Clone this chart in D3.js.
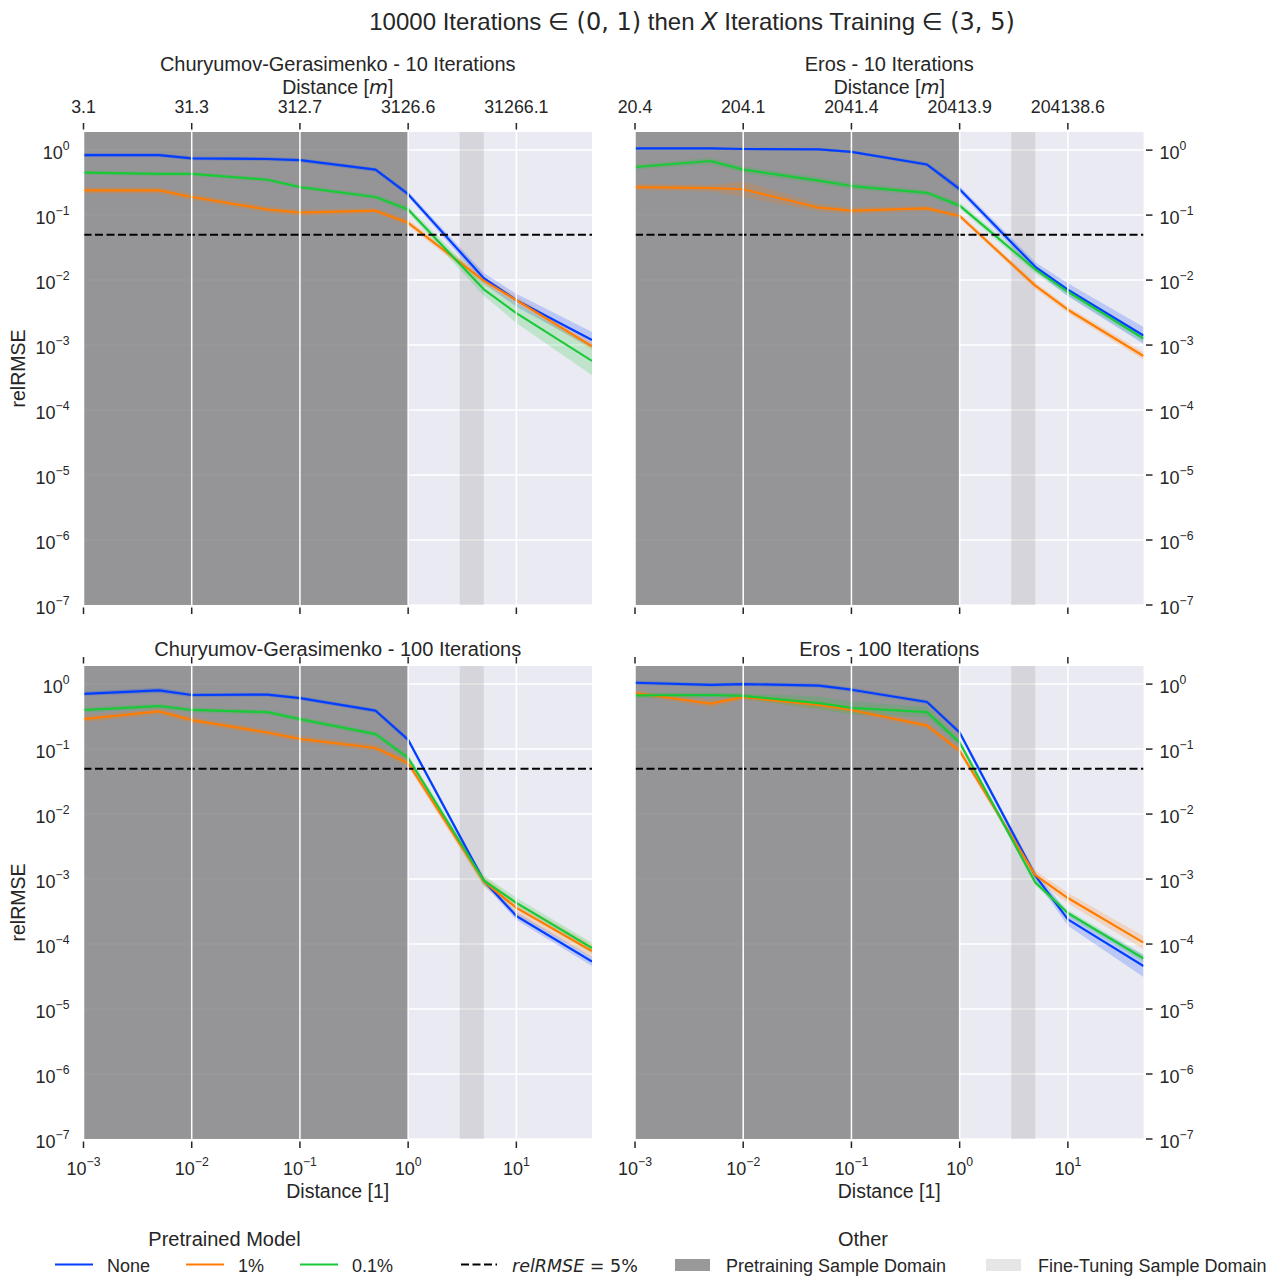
<!DOCTYPE html>
<html lang="en">
<head>
<meta charset="UTF-8">
<title>relRMSE fine-tuning</title>
<style>
    body { margin: 0; background: #fff; }
    svg { display: block; font-family: "Liberation Sans", Arial, sans-serif; }
    text { fill: #262626; }
</style>
</head>
<body>
<script src="https://d3js.org/d3.v7.min.js"></script>
<script>
// sample distances (dimensionless)
var xs = [0.001, 0.005, 0.01, 0.05, 0.1, 0.5, 1, 5, 10, 50];

// Churyumov-Gerasimenko, 10 iterations
var cg10None  = [0.84, 0.84, 0.745, 0.73, 0.70, 0.50, 0.21, 0.0107, 0.0049, 0.0012];
var cg10One   = [0.24, 0.24, 0.19, 0.122, 0.109, 0.117, 0.076, 0.0098, 0.0049, 0.00096];
var cg10Tenth = [0.45, 0.43, 0.43, 0.35, 0.27, 0.19, 0.122, 0.0072, 0.0031, 0.00057];
// Eros, 10 iterations
var er10None  = [1.06, 1.06, 1.04, 1.03, 0.94, 0.60, 0.25, 0.016, 0.0071, 0.0014];
var er10One   = [0.27, 0.26, 0.25, 0.13, 0.117, 0.127, 0.097, 0.0082, 0.0035, 0.00068];
var er10Tenth = [0.55, 0.68, 0.50, 0.34, 0.28, 0.22, 0.14, 0.0146, 0.0066, 0.00126];
// Churyumov-Gerasimenko, 100 iterations
var cg100None  = [0.71, 0.80, 0.68, 0.69, 0.61, 0.39, 0.139, 0.00094, 0.00027, 0.000054];
var cg100One   = [0.29, 0.38, 0.28, 0.18, 0.144, 0.104, 0.061, 0.00092, 0.00036, 0.000078];
var cg100Tenth = [0.40, 0.46, 0.40, 0.37, 0.29, 0.17, 0.073, 0.00095, 0.00043, 0.000087];
// Eros, 100 iterations
var er100None  = [1.05, 0.975, 1.0, 0.95, 0.82, 0.53, 0.18, 0.00113, 0.00024, 0.000046];
var er100One   = [0.73, 0.50, 0.63, 0.48, 0.40, 0.23, 0.094, 0.00115, 0.00051, 0.000105];
var er100Tenth = [0.67, 0.68, 0.66, 0.51, 0.43, 0.37, 0.126, 0.00089, 0.0003, 0.00006];

// half width of the shaded band, in decades
var cg10NoneSd   = [0.03, 0.03, 0.03, 0.03, 0.03, 0.03, 0.04, 0.08, 0.10, 0.12];
var cg10OneSd    = [0.05, 0.05, 0.05, 0.05, 0.05, 0.04, 0.05, 0.06, 0.06, 0.06];
var cg10TenthSd  = [0.03, 0.03, 0.03, 0.03, 0.03, 0.04, 0.05, 0.10, 0.15, 0.22];
var er10NoneSd   = [0.02, 0.02, 0.02, 0.02, 0.02, 0.03, 0.05, 0.07, 0.10, 0.13];
var er10OneSd    = [0.05, 0.05, 0.12, 0.06, 0.05, 0.04, 0.04, 0.05, 0.05, 0.06];
var er10TenthSd  = [0.04, 0.05, 0.05, 0.05, 0.05, 0.04, 0.05, 0.06, 0.06, 0.06];
var cg100NoneSd  = [0.03, 0.04, 0.03, 0.03, 0.03, 0.03, 0.04, 0.05, 0.06, 0.07];
var cg100OneSd   = [0.05, 0.05, 0.05, 0.05, 0.05, 0.05, 0.06, 0.08, 0.10, 0.10];
var cg100TenthSd = [0.04, 0.04, 0.04, 0.04, 0.04, 0.04, 0.05, 0.08, 0.08, 0.08];
var er100NoneSd  = [0.03, 0.03, 0.03, 0.03, 0.03, 0.03, 0.04, 0.06, 0.10, 0.17];
var er100OneSd   = [0.04, 0.06, 0.04, 0.06, 0.05, 0.05, 0.05, 0.07, 0.08, 0.10];
var er100TenthSd = [0.04, 0.04, 0.04, 0.10, 0.10, 0.08, 0.05, 0.05, 0.05, 0.06];

var xTicks = [1e-3, 1e-2, 1e-1, 1, 10];
var yTicks = [1, 1e-1, 1e-2, 1e-3, 1e-4, 1e-5, 1e-6, 1e-7];
var cgMeters = ["3.1", "31.3", "312.7", "3126.6", "31266.1"];
var erosMeters = ["20.4", "204.1", "2041.4", "20413.9", "204138.6"];
var pretrainDomain = [0.001, 1];
var finetuneDomain = [3, 5];
var threshold = 0.05;

var modelNames = ["None", "1%", "0.1%"];
var modelColors = ["#023eff", "#ff7c00", "#1ac938"];

var panels = [
    {title: "Churyumov-Gerasimenko - 10 Iterations", left: 83.5, top: 132, meters: cgMeters, row: 0, col: 0,
     series: [cg10None, cg10One, cg10Tenth], spread: [cg10NoneSd, cg10OneSd, cg10TenthSd]},
    {title: "Eros - 10 Iterations", left: 635, top: 132, meters: erosMeters, row: 0, col: 1,
     series: [er10None, er10One, er10Tenth], spread: [er10NoneSd, er10OneSd, er10TenthSd]},
    {title: "Churyumov-Gerasimenko - 100 Iterations", left: 83.5, top: 666, meters: null, row: 1, col: 0,
     series: [cg100None, cg100One, cg100Tenth], spread: [cg100NoneSd, cg100OneSd, cg100TenthSd]},
    {title: "Eros - 100 Iterations", left: 635, top: 666, meters: null, row: 1, col: 1,
     series: [er100None, er100One, er100Tenth], spread: [er100NoneSd, er100OneSd, er100TenthSd]}
];

var W = 1280, H = 1277;
var pw = 508.5, ph = 473;
var tickSize = 18, labelSize = 19.5, titleSize = 20;

var svg = d3.select("body").append("svg")
    .attr("width", W)
    .attr("height", H);

svg.append("rect").attr("width", W).attr("height", H).attr("fill", "#fff");

var x = d3.scaleLog().domain([0.001, 50]).range([0, pw]);
var y = d3.scaleLog().domain([1e-7, 1.9]).range([ph, 0]);

// "10" with a superscript exponent, like matplotlib's log labels
function powLabel(sel, v, size) {
    var e = Math.round(Math.log10(v));
    sel.append("tspan").text("10");
    sel.append("tspan")
        .attr("dy", -size * 0.5)
        .style("font-size", (size * 0.68) + "px")
        .text(e < 0 ? "\u2212" + (-e) : String(e));
}

// suptitle
var sup = svg.append("text")
    .attr("x", 692).attr("y", 29.5)
    .attr("text-anchor", "middle")
    .style("font-size", "24px");
sup.append("tspan").text("10000 Iterations ");
sup.append("tspan").style("font-family", "DejaVu Sans").text("\u2208 (0, 1)");
sup.append("tspan").text(" then ");
sup.append("tspan").style("font-family", "DejaVu Sans").style("font-style", "italic").text("X");
sup.append("tspan").text(" Iterations Training ");
sup.append("tspan").style("font-family", "DejaVu Sans").text("\u2208 (3, 5)");

panels.forEach(function (p) {
    var g = svg.append("g").attr("transform", "translate(" + p.left + "," + p.top + ")");
    var clipId = "clip" + p.row + p.col;
    g.append("clipPath").attr("id", clipId)
        .append("rect").attr("width", pw).attr("height", ph);

    g.append("rect").attr("width", pw).attr("height", ph).attr("fill", "#eaeaf2");

    // horizontal grid
    g.selectAll(".hgrid").data(yTicks).enter().append("line")
        .attr("x1", 0).attr("x2", pw)
        .attr("y1", function (d) { return y(d); })
        .attr("y2", function (d) { return y(d); })
        .attr("stroke", "#fff").attr("stroke-width", 1.5);

    // sample domains
    g.append("rect")
        .attr("x", x(pretrainDomain[0])).attr("y", 0)
        .attr("width", x(pretrainDomain[1]) - x(pretrainDomain[0])).attr("height", ph)
        .attr("fill", "#808080").attr("fill-opacity", 0.8);
    g.append("rect")
        .attr("x", x(finetuneDomain[0])).attr("y", 0)
        .attr("width", x(finetuneDomain[1]) - x(finetuneDomain[0])).attr("height", ph)
        .attr("fill", "#808080").attr("fill-opacity", 0.2);

    var plot = g.append("g").attr("clip-path", "url(#" + clipId + ")");

    p.series.forEach(function (vals, i) {
        var pts = xs.map(function (xv, j) { return {x: xv, v: vals[j], s: p.spread[i][j]}; });
        var area = d3.area()
            .x(function (d) { return x(d.x); })
            .y0(function (d) { return y(d.v / Math.pow(10, d.s)); })
            .y1(function (d) { return y(d.v * Math.pow(10, d.s)); });
        plot.append("path").datum(pts)
            .attr("d", area)
            .attr("fill", modelColors[i]).attr("fill-opacity", 0.2);
    });
    p.series.forEach(function (vals, i) {
        var line = d3.line()
            .x(function (d, j) { return x(xs[j]); })
            .y(function (d) { return y(d); });
        plot.append("path").datum(vals)
            .attr("d", line)
            .attr("fill", "none")
            .attr("stroke", modelColors[i]).attr("stroke-width", 2.2)
            .attr("stroke-linejoin", "round");
    });

    // 5% threshold
    plot.append("line")
        .attr("x1", 0).attr("x2", pw)
        .attr("y1", y(threshold)).attr("y2", y(threshold))
        .attr("stroke", "#000").attr("stroke-width", 2)
        .attr("stroke-dasharray", "8,3.5");

    // vertical grid of the twin axis sits on top
    g.selectAll(".vgrid").data(xTicks).enter().append("line")
        .attr("x1", function (d) { return x(d); })
        .attr("x2", function (d) { return x(d); })
        .attr("y1", 0).attr("y2", ph)
        .attr("stroke", "#fff").attr("stroke-width", 1.5);

    // tick marks top and bottom
    xTicks.forEach(function (t) {
        g.append("line").attr("x1", x(t)).attr("x2", x(t))
            .attr("y1", -9).attr("y2", -2.5)
            .attr("stroke", "#262626").attr("stroke-width", 1.5);
        g.append("line").attr("x1", x(t)).attr("x2", x(t))
            .attr("y1", ph + 2.5).attr("y2", ph + 9)
            .attr("stroke", "#262626").attr("stroke-width", 1.5);
    });

    if (p.meters) {
        p.meters.forEach(function (m, k) {
            g.append("text")
                .attr("x", x(xTicks[k])).attr("y", -19)
                .attr("text-anchor", "middle")
                .style("font-size", "17.8px")
                .text(m);
        });
        var dl = g.append("text")
            .attr("x", pw / 2).attr("y", -38)
            .attr("text-anchor", "middle")
            .style("font-size", labelSize + "px");
        dl.append("tspan").text("Distance [");
        dl.append("tspan").style("font-family", "DejaVu Sans").style("font-style", "italic").text("m");
        dl.append("tspan").text("]");
        g.append("text")
            .attr("x", pw / 2).attr("y", -61)
            .attr("text-anchor", "middle")
            .style("font-size", titleSize + "px")
            .text(p.title);
    } else {
        g.append("text")
            .attr("x", pw / 2).attr("y", -10)
            .attr("text-anchor", "middle")
            .style("font-size", titleSize + "px")
            .text(p.title);
        xTicks.forEach(function (t) {
            var tx = g.append("text")
                .attr("x", x(t)).attr("y", ph + 36)
                .attr("text-anchor", "middle")
                .style("font-size", tickSize + "px");
            powLabel(tx, t, tickSize);
        });
        g.append("text")
            .attr("x", pw / 2).attr("y", ph + 59)
            .attr("text-anchor", "middle")
            .style("font-size", labelSize + "px")
            .text("Distance [1]");
    }

    // y ticks
    yTicks.forEach(function (t) {
        var ty;
        if (p.col === 0) {
            ty = g.append("text")
                .attr("x", -14).attr("y", y(t) + 9)
                .attr("text-anchor", "end")
                .style("font-size", tickSize + "px");
        } else {
            g.append("line").attr("x1", pw + 2.5).attr("x2", pw + 9)
                .attr("y1", y(t)).attr("y2", y(t))
                .attr("stroke", "#262626").attr("stroke-width", 1.5);
            ty = g.append("text")
                .attr("x", pw + 16).attr("y", y(t) + 9)
                .attr("text-anchor", "start")
                .style("font-size", tickSize + "px");
        }
        powLabel(ty, t, tickSize);
    });

    if (p.col === 0) {
        g.append("text")
            .attr("transform", "translate(-59," + (ph / 2) + ") rotate(-90)")
            .attr("text-anchor", "middle")
            .style("font-size", labelSize + "px")
            .text("relRMSE");
    }
});

// legends
var leg = svg.append("g");
leg.append("text").attr("x", 224.5).attr("y", 1246).attr("text-anchor", "middle")
    .style("font-size", titleSize + "px").text("Pretrained Model");
var modelX = [55, 186, 300];
modelNames.forEach(function (n, i) {
    leg.append("line").attr("x1", modelX[i]).attr("x2", modelX[i] + 38)
        .attr("y1", 1264.5).attr("y2", 1264.5)
        .attr("stroke", modelColors[i]).attr("stroke-width", 2.2);
    leg.append("text").attr("x", modelX[i] + 52).attr("y", 1271.5)
        .style("font-size", "18px").text(n);
});

leg.append("text").attr("x", 863).attr("y", 1246).attr("text-anchor", "middle")
    .style("font-size", titleSize + "px").text("Other");
leg.append("line").attr("x1", 461).attr("x2", 497)
    .attr("y1", 1264.5).attr("y2", 1264.5)
    .attr("stroke", "#000").attr("stroke-width", 2)
    .attr("stroke-dasharray", "8,3.5");
var th = leg.append("text").attr("x", 512).attr("y", 1271.5)
    .style("font-size", "17.5px").style("font-family", "DejaVu Sans");
th.append("tspan").style("font-style", "italic").text("relRMSE");
th.append("tspan").text(" = 5%");

leg.append("rect").attr("x", 675).attr("y", 1259).attr("width", 35).attr("height", 12)
    .attr("fill", "#808080").attr("fill-opacity", 0.8);
leg.append("text").attr("x", 726).attr("y", 1271.5)
    .style("font-size", "18px").text("Pretraining Sample Domain");
leg.append("rect").attr("x", 986).attr("y", 1259).attr("width", 35).attr("height", 12)
    .attr("fill", "#808080").attr("fill-opacity", 0.2);
leg.append("text").attr("x", 1038).attr("y", 1271.5)
    .style("font-size", "18px").text("Fine-Tuning Sample Domain");
</script>
</body>
</html>
